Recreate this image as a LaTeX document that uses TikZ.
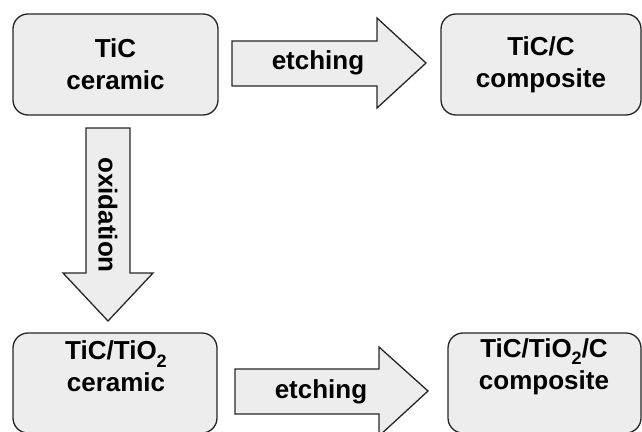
\documentclass[tikz,border=0pt]{standalone}
\usepackage{fontspec}
\setmainfont{Liberation Sans}
\begin{document}
\begin{tikzpicture}[x=1pt,y=-1pt,
  box/.style={draw=black!85, line width=1.3pt, fill=black!7, rounded corners=15pt, inner sep=0pt},
  blockarrow/.style={draw=black!85, line width=1.3pt, fill=black!7, line join=miter},
  txt/.style={font=\bfseries\fontsize{26}{32}\selectfont, align=center, inner sep=0pt},
]
\useasboundingbox (0,0) rectangle (642,431);
\clip (0,0) rectangle (642,431);
% boxes
\node[box, minimum width=205pt, minimum height=101pt] (tic) at (115.5,64.5) {};
\node[box, minimum width=200pt, minimum height=101pt] (ticc) at (541,64.5) {};
\node[box, minimum width=204pt, minimum height=100pt] (tictio) at (115,383) {};
\node[box, minimum width=193pt, minimum height=100pt] (tictioc) at (544.5,383) {};
% box texts
\node[txt] (t1) at (tic.center) {TiC\\ceramic};
\node[txt] (t2) at (ticc.center) {TiC/C\\composite};
\node[txt] (t3) at (116,366.5) {TiC/TiO\raisebox{-0.28em}{\fontsize{18}{18}\selectfont 2}\\ceramic};
\node[txt] (t4) at (544,366.5) {TiC/TiO\raisebox{-0.28em}{\fontsize{18}{18}\selectfont 2}/C\\composite};
% block arrows
\draw[blockarrow] (232,41) -- (377,41) -- (377,18) -- (426,63) -- (377,108) -- (377,86) -- (232,86) -- cycle;
\draw[blockarrow] (86,128) -- (130,128) -- (130,273) -- (153,273) -- (108,321) -- (63,273) -- (86,273) -- cycle;
\draw[blockarrow] (235,369) -- (379,369) -- (379,347) -- (428,391) -- (379,436) -- (379,414) -- (235,414) -- cycle;
% arrow labels
\node[txt] (e1) at (318,63) {etching};
\node[txt, rotate=-90] (ox) at (108,215) {oxidation};
\node[txt] (e2) at (321,391.5) {etching};
\end{tikzpicture}
\end{document}
